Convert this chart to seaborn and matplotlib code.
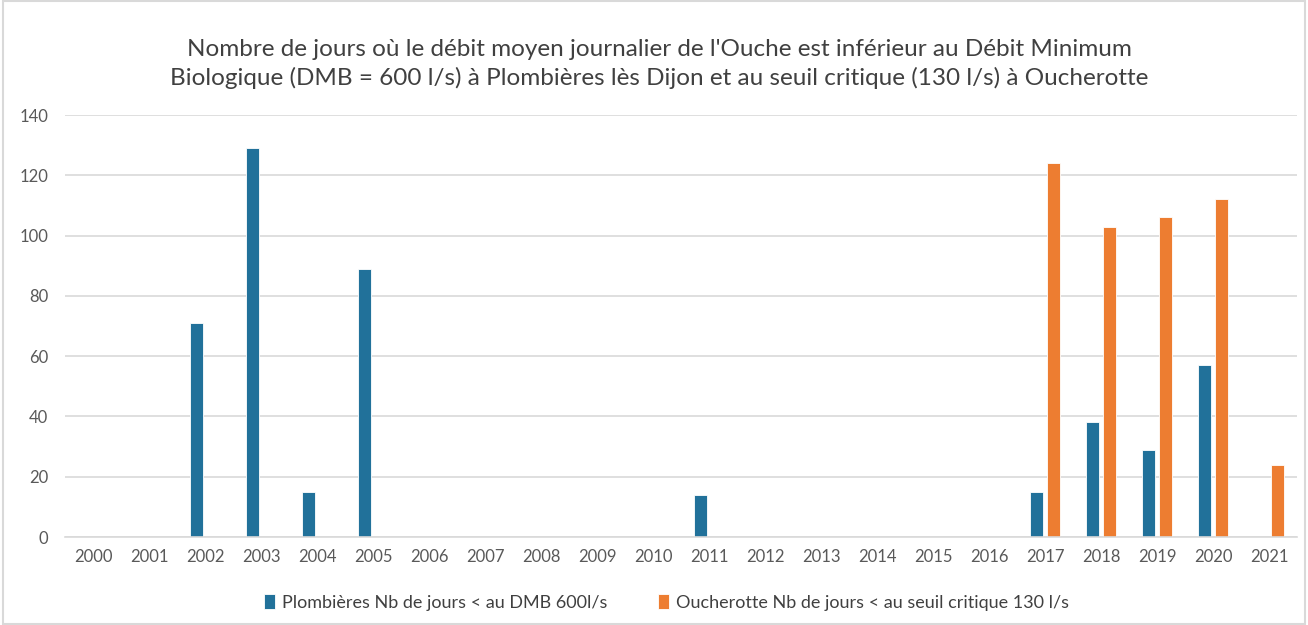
import matplotlib.pyplot as plt
import pandas as pd
import seaborn as sns
from matplotlib.patches import Rectangle

years = [str(y) for y in range(2000, 2022)]
plombieres = [0, 0, 71, 129, 15, 89, 0, 0, 0, 0, 0, 14, 0, 0, 0, 0, 0, 15, 38, 29, 57, 0]
oucherotte = [0, 0, 0, 0, 0, 0, 0, 0, 0, 0, 0, 0, 0, 0, 0, 0, 0, 124, 103, 106, 112, 24]
series_names = ["Plombières Nb de jours < au DMB 600l/s",
                "Oucherotte Nb de jours < au seuil critique 130 l/s"]
title = ("Nombre de jours où le débit moyen journalier de l'Ouche est inférieur au Débit Minimum\n"
         "Biologique (DMB = 600 l/s) à Plombières lès Dijon et au seuil critique (130 l/s) à Oucherotte")

df = pd.DataFrame({
    "annee": years * 2,
    "jours": plombieres + oucherotte,
    "serie": [series_names[0]] * len(years) + [series_names[1]] * len(years),
})

sns.set_style("white")
plt.rcParams["font.family"] = ["Lato", "DejaVu Sans"]

fig = plt.figure(figsize=(13.08, 6.25), dpi=100)
ax = fig.add_axes([65 / 1308, 1 - 537 / 625, 1232 / 1308, 422 / 625])

sns.barplot(data=df, x="annee", y="jours", hue="serie", ax=ax,
            palette=["#21719a", "#ed7d31"], width=0.6, gap=0.22,
            saturation=1, edgecolor="white", linewidth=0.6)

ax.set_ylim(0, 140)
ax.set_yticks(range(0, 141, 20))
ax.set_xlim(-0.5, len(years) - 0.5)
ax.grid(axis="y", color="#d9d9d9", linewidth=1.2)
ax.set_axisbelow(True)
for side in ["top", "right", "left"]:
    ax.spines[side].set_visible(False)
ax.spines["bottom"].set_color("#d9d9d9")
ax.spines["bottom"].set_linewidth(1.2)
ax.tick_params(axis="both", length=0, colors="#595959", labelsize=12)
ax.tick_params(axis="x", pad=9)
ax.tick_params(axis="y", pad=12)
ax.set_xlabel("")
ax.set_ylabel("")

fig.text(0.504, 1 - 64 / 625, title, ha="center", va="center",
         fontsize=17.5, color="#404040", linespacing=1.4)

handles, labels = ax.get_legend_handles_labels()
ax.legend(handles, labels, loc="center", bbox_to_anchor=(0.488, -0.155),
          ncol=2, frameon=False, handlelength=0.6, handleheight=0.9,
          handletextpad=0.4, columnspacing=2.8, prop={"size": 13},
          labelcolor="#404040")

fig.patches.append(Rectangle((0.002, 0.002), 0.996, 0.996, transform=fig.transFigure,
                             fill=False, edgecolor="#d9d9d9", linewidth=1.5))

fig.savefig("out.png", dpi=100)
